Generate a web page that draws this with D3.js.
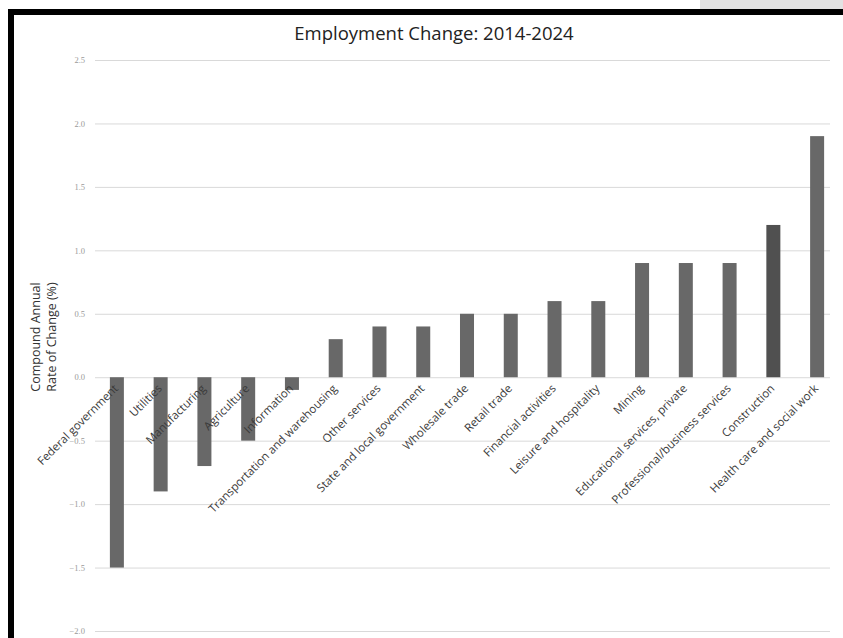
<!DOCTYPE html>
<html><head><meta charset="utf-8">
<script src="https://cdn.jsdelivr.net/npm/d3@7"></script>
<style>
html,body{margin:0;padding:0;background:#fff;}
svg{display:block;}
</style></head>
<body>
<script>
const categories = ["Federal government","Utilities","Manufacturing","Agriculture","Information","Transportation and warehousing","Other services","State and local government","Wholesale trade","Retail trade","Financial activities","Leisure and hospitality","Mining","Educational services, private","Professional/business services","Construction","Health care and social work"];
const values = [-1.5,-0.9,-0.7,-0.5,-0.1,0.3,0.4,0.4,0.5,0.5,0.6,0.6,0.9,0.9,0.9,1.2,1.9];
const yTicks = [-2.0,-1.5,-1.0,-0.5,0.0,0.5,1.0,1.5,2.0,2.5];
const title = "Employment Change: 2014-2024";
const yTitle = ["Compound Annual","Rate of Change (%)"];

const W=843,H=638;
const svg=d3.select("body").append("svg").attr("width",W).attr("height",H);
svg.append("rect").attr("width",W).attr("height",H).attr("fill","#fff");
// top-right strip
svg.append("rect").attr("x",700).attr("y",0).attr("width",143).attr("height",9).attr("fill","#e2e2e2");
// frame
svg.append("rect").attr("x",8).attr("y",9).attr("width",W+20).attr("height",H+20).attr("fill","#fff");
svg.append("line").attr("x1",11).attr("x2",11).attr("y1",9).attr("y2",H).attr("stroke","#000").attr("stroke-width",6);
svg.append("line").attr("x1",8).attr("x2",W).attr("y1",12).attr("y2",12).attr("stroke","#000").attr("stroke-width",6);

const y=d3.scaleLinear().domain([-2.0,2.5]).range([631,60]);
const x=d3.scaleBand().domain(categories).range([95,839]).paddingInner(0.68).paddingOuter(0.34);

// gridlines
const gAxis=svg.append("g").attr("transform","translate(95,0)")
  .call(d3.axisLeft(y).tickValues(yTicks).tickSize(-735).tickFormat(d3.format(".1f")));
gAxis.select(".domain").remove();
gAxis.selectAll(".tick line").attr("stroke","#d9d9d9").attr("stroke-width",1);
gAxis.selectAll(".tick text").attr("x",-10).style("fill","#9a9a9a")
  .attr("font-family","Liberation Serif, serif").attr("font-size",8.5);

// bars
svg.append("g").selectAll("rect").data(values).join("rect")
  .attr("x",(d,i)=>x(categories[i]))
  .attr("width",x.bandwidth())
  .attr("y",d=>y(Math.max(0,d)))
  .attr("height",d=>Math.abs(y(d)-y(0)))
  .attr("fill",(d,i)=>i===15?"#505050":"#686868");

// category labels
svg.append("g").selectAll("text").data(categories).join("text")
  .attr("transform",d=>`translate(${x(d)+x.bandwidth()/2+2},${y(0)+12}) rotate(-45)`)
  .attr("text-anchor","end")
  .attr("font-family","Open Sans, sans-serif").attr("font-size",11.5)
  .attr("fill","#3a3a3a")
  .text(d=>d);

// title
svg.append("text").attr("x",434).attr("y",40).attr("text-anchor","middle")
  .attr("font-family","Open Sans, sans-serif").attr("font-size",18.5).attr("fill","#222")
  .text(title);

// y title
const yt=svg.append("text").attr("transform","translate(40,337) rotate(-90)")
  .attr("text-anchor","middle").attr("font-family","Open Sans, sans-serif")
  .attr("font-size",12.5).attr("fill","#333");
yt.selectAll("tspan").data(yTitle).join("tspan").attr("x",0).attr("dy",(d,i)=>i===0?0:16).text(d=>d);
</script>
</body></html>
